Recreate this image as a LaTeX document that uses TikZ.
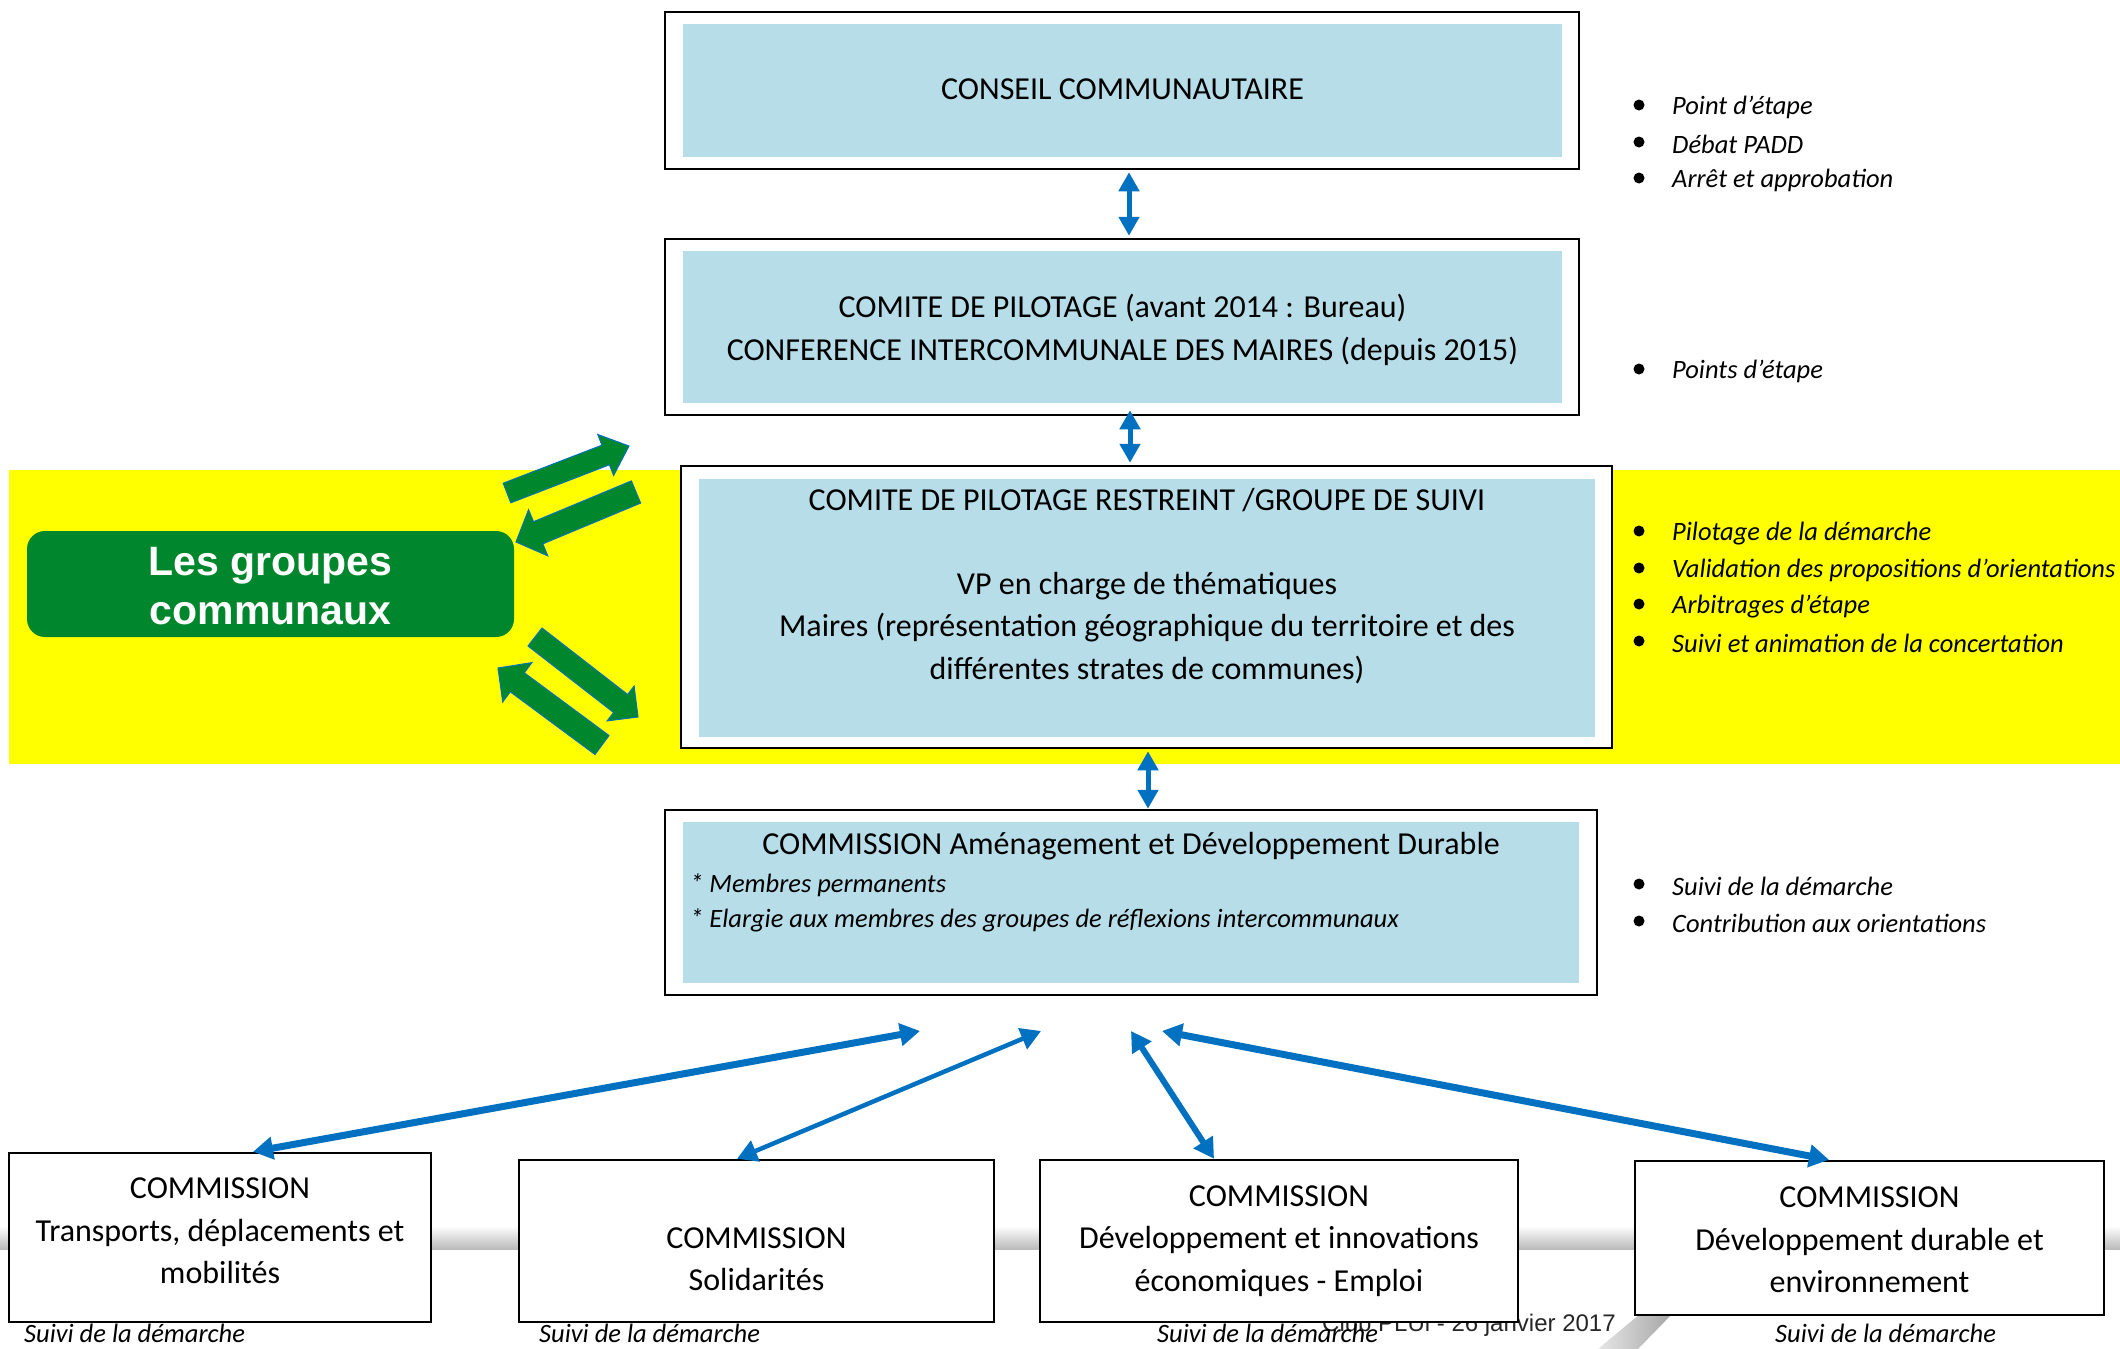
\documentclass[tikz,border=0pt]{standalone}
\usepackage{fontspec}
\setmainfont{Carlito}
\newfontfamily\arialfont{Liberation Sans}
\usetikzlibrary{arrows.meta,calc}
\definecolor{lblue}{HTML}{B7DDE8}
\definecolor{arrblue}{HTML}{0070C0}
\definecolor{ggreen}{RGB}{0,134,44}
\definecolor{yel}{HTML}{FFFF00}
\newcommand\gblock[5]{%
  \coordinate (gb-b) at ($(#2)!#5!(#1)$);
  \filldraw[fill=ggreen, draw=arrblue, line width=1pt, line join=miter]
    ($(#1)!#3!90:(#2)$) -- ($(gb-b)!#3!-90:(#1)$) -- ($(gb-b)!#4!-90:(#1)$) -- (#2)
    -- ($(gb-b)!#4!90:(#1)$) -- ($(gb-b)!#3!90:(#1)$) -- ($(#1)!#3!-90:(#2)$) -- cycle;}
\begin{document}
\begin{tikzpicture}[x=1pt,y=-1pt,
  outerbox/.style={draw=black, line width=2.5pt, fill=white, inner sep=0pt},
  innerbox/.style={fill=lblue, draw=none, inner sep=0pt},
  btext/.style={font=\fontsize{32}{42.5}\selectfont, align=center, inner sep=0pt},
  itext/.style={font=\fontsize{26.5}{32}\selectfont\itshape, anchor=west, inner sep=0pt, yshift=-2.5pt},
  cbox/.style={draw=black, line width=2.5pt, fill=white, inner sep=0pt},
  varrow/.style={draw=arrblue, line width=5pt, {Triangle[length=19pt,width=20pt]}-{Triangle[length=19pt,width=20pt]}},
  barrow/.style={draw=arrblue, {Triangle[length=20pt,width=22pt]}-{Triangle[length=20pt,width=22pt]}},
  dot/.style={fill=black}
]
\useasboundingbox (0,0) rectangle (2120,1349);
\fill[white] (0,0) rectangle (2120,1349);

% faint slide background
\shade[top color=white, bottom color=black!28] (0,1226) rectangle (2120,1250);
\fill[white] (0,1250) rectangle (2120,1256);
\shade[left color=black!10, right color=black!35] (1598,1349) -- (1640,1314) -- (1672,1314) -- (1638,1349) -- cycle;
\node[font=\arialfont\fontsize{24}{27}\selectfont, anchor=base west, inner sep=0pt, text=black!85] (club) at (1322,1331) {Club PLUi - 26 janvier 2017};

% yellow band
\fill[yel] (9,470) rectangle (2120,764);

% green group box
\node[fill=ggreen, rounded corners=18pt, minimum width=487, minimum height=106, inner sep=0pt] (gc) at (270.5,584) {};
\node[font=\arialfont\bfseries\fontsize{41}{49}\selectfont, text=white, align=center, inner sep=0pt] (gct) at (270.5,586) {Les groupes\\communaux};

% green block arrows
\coordinate (gA1) at (507,493); \coordinate (gA2) at (629,446);
\coordinate (gB1) at (636,492); \coordinate (gB2) at (516,542);
\coordinate (gC1) at (535,637); \coordinate (gC2) at (638,717);
\coordinate (gD1) at (602,745); \coordinate (gD2) at (498,668);
\gblock{gA1}{gA2}{10.5pt}{22pt}{25pt}
\gblock{gB1}{gB2}{12pt}{25pt}{24pt}
\gblock{gC1}{gC2}{11.4pt}{22pt}{22pt}
\gblock{gD1}{gD2}{11.8pt}{24.5pt}{24pt}

% box 1
\node[outerbox, minimum width=914, minimum height=157] (cc) at (1122,90.5) {};
\node[innerbox, minimum width=879, minimum height=133] (cci) at (1122.5,90.5) {};
\node[btext] (cct) at (1122.5,89) {CONSEIL COMMUNAUTAIRE};

% box 2
\node[outerbox, minimum width=914, minimum height=176] (cp) at (1122,327) {};
\node[innerbox, minimum width=879, minimum height=152] (cpi) at (1122.5,327) {};
\node[btext] (cpt) at (1122.5,330) {COMITE DE PILOTAGE (avant 2014 : Bureau)\\CONFERENCE INTERCOMMUNALE DES MAIRES (depuis 2015)};

% box 3
\node[outerbox, minimum width=931, minimum height=282] (cr) at (1146.5,607) {};
\node[innerbox, minimum width=896, minimum height=258] (cri) at (1147,608) {};
\node[btext] (crt) at (1147,500) {COMITE DE PILOTAGE RESTREINT /GROUPE DE SUIVI};
\node[btext] (crb) at (1147,628) {VP en charge de thématiques\\Maires (représentation géographique du territoire et des\\différentes strates de communes)};

% box 4
\node[outerbox, minimum width=932, minimum height=185] (cm) at (1131,902.5) {};
\node[innerbox, minimum width=896, minimum height=161] (cmi) at (1131,902.5) {};
\node[btext] (cmt) at (1131,846) {COMMISSION Aménagement et Développement Durable};
\node[itext] (cm1) at (690,883) {* Membres permanents};
\node[itext] (cm2) at (690,918) {* Elargie aux membres des groupes de réflexions intercommunaux};

% vertical arrows
\draw[varrow] ([xshift=7pt,yshift=-2pt]cc.south) -- ([xshift=7pt,yshift=2pt]cp.north);
\draw[varrow] ([xshift=8pt,yshift=6pt]cp.south) -- ([xshift=-16.5pt,yshift=2pt]cr.north);
\draw[varrow] ([xshift=1.5pt,yshift=-2pt]cr.south) -- ([xshift=17pt]cm.north);

% bottom commissions
\node[cbox, minimum width=422, minimum height=169] (b1) at (220,1237.5) {};
\node[btext] (t1) at (220,1231) {COMMISSION\\Transports, déplacements et\\mobilités};
\node[cbox, minimum width=475, minimum height=162] (b2) at (756.5,1241) {};
\node[btext] (t2) at (756.5,1259) {COMMISSION\\Solidarités};
\node[cbox, minimum width=478, minimum height=162] (b3) at (1279,1241) {};
\node[btext] (t3) at (1279,1241) {COMMISSION\\Développement et innovations\\économiques - Emploi};
\node[cbox, minimum width=469, minimum height=154] (b4) at (1869.5,1238) {};
\node[btext] (t4) at (1869.5,1240) {COMMISSION\\Développement durable et\\environnement};

\node[itext] (s1) at (24,1331) {Suivi de la démarche};
\node[itext] (s2) at (539,1331) {Suivi de la démarche};
\node[itext] (s3) at (1157,1331) {Suivi de la démarche};
\node[itext] (s4) at (1775,1331) {Suivi de la démarche};

% bottom blue arrows
\coordinate (e1) at (920,1031);
\coordinate (e2) at (1041,1031);
\coordinate (e3) at (1131,1031);
\coordinate (e4) at (1162,1031);
\draw[barrow, line width=7pt] ([xshift=33pt]b1.north) -- (e1);
\draw[barrow, line width=4.5pt] ([xshift=-19.5pt]b2.north) -- (e2);
\draw[barrow, line width=6pt] ([xshift=-65pt]b3.north) -- (e3);
\draw[barrow, line width=7pt] ([xshift=-40.5pt]b4.north) -- (e4);

% right bullet lists
\foreach \yy/\tx [count=\i] in {105/Point d’étape, 142/Débat PADD, 178/Arrêt et approbation, 369/Points d’étape,
  531/Pilotage de la démarche, 568/Validation des propositions d’orientations, 604/Arbitrages d’étape, 641/Suivi et animation de la concertation,
  884/Suivi de la démarche, 921/Contribution aux orientations}{
  \fill[dot] (1639,\yy) circle (5.5);
  \node[itext] (r\i) at (1672,\yy) {\tx};
}
\end{tikzpicture}
\end{document}
